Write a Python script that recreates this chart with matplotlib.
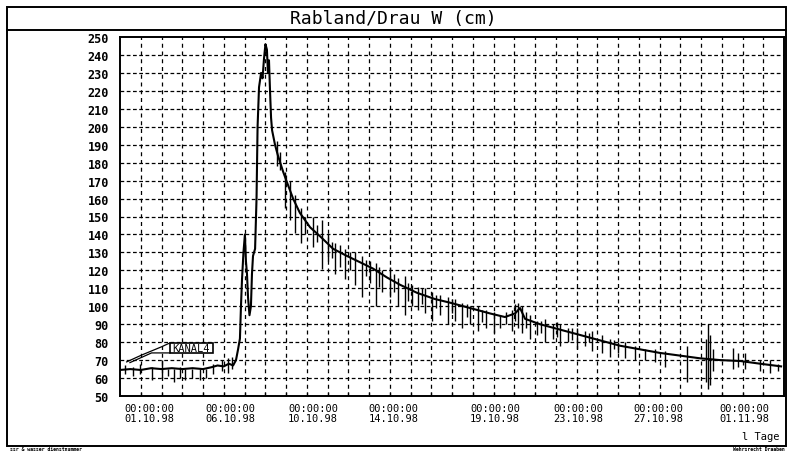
import matplotlib
matplotlib.use("Agg")
import matplotlib.pyplot as plt
from matplotlib.patches import Rectangle
from matplotlib.lines import Line2D

# ---- data (days since 01.10.98 00:00, water level in cm) ----
base_day = [0.0, 0.5, 1.0, 1.5, 2.0, 2.5, 3.0, 3.5, 4.0, 4.4, 4.7, 5.0, 5.25, 5.45,
            5.59, 5.69, 5.78, 5.83, 5.88, 5.95, 6.02, 6.07, 6.12, 6.17, 6.24, 6.31,
            6.36, 6.41, 6.51, 6.58, 6.63, 6.70, 6.80, 6.87, 6.94, 7.01, 7.08, 7.13,
            7.18, 7.23, 7.28, 7.33, 7.47, 7.61, 7.86, 8.05, 8.34, 8.67, 9.16, 9.64,
            10.27, 10.94, 11.57, 12.19, 12.87, 13.49, 14.31, 15.18, 15.90, 16.87,
            17.83, 18.55, 19.04, 19.28, 19.52, 20.24, 21.2, 22.17, 23.13, 24.1,
            25.06, 26.02, 26.99, 27.95, 28.92, 29.88, 30.84, 31.86]
base_val = [64.5, 65, 64.5, 65.5, 65, 65.5, 65, 65.5, 65, 66, 67, 66.5, 68, 67,
            70, 76, 82, 100, 115, 130, 140, 125, 118, 105, 95, 100,
            118, 128, 132, 160, 200, 222, 230, 227, 238, 246, 243, 230,
            237, 220, 205, 198, 190, 184, 175, 169, 160, 152, 144, 139,
            132, 128, 124.5, 121, 116, 112, 107.5, 104, 102, 99,
            96, 94, 96, 99, 93, 90, 87, 84, 81, 78,
            76, 74, 72.5, 71, 70, 69.5, 68, 66.5]

spike_day = [0.24, 0.63, 0.96, 1.54, 2.02, 2.31, 2.60, 2.89, 3.13, 3.47, 3.86, 4.14,
             4.48, 4.92, 5.20, 5.40,
             7.55, 7.70, 7.95, 8.19, 8.43, 8.72, 8.92, 9.30, 9.50, 9.73, 10.02,
             10.20, 10.36, 10.60, 10.84, 11.10, 11.33, 11.66, 11.85, 12.05, 12.34,
             12.50, 12.63, 13.01, 13.20, 13.40, 13.73, 13.90, 14.07, 14.36, 14.55,
             14.70, 15.04, 15.25, 15.42, 15.81, 16.00, 16.14, 16.48, 16.70, 16.87,
             17.25, 17.45, 17.64, 18.02, 18.31, 18.60, 18.89, 19.05, 19.18, 19.37,
             19.55, 19.76, 20.10, 20.30, 20.48, 20.87, 21.05, 21.20, 21.59, 21.80,
             22.02, 22.41, 22.60, 22.75, 23.23, 23.61, 23.80, 24.00, 24.34, 24.82,
             25.30, 25.78, 26.27, 27.33, 28.24, 28.34, 28.43, 28.60, 29.54, 29.80,
             30.12, 30.84, 31.33, 31.71]
spike_lo = [62, 61, 62, 59, 60, 61, 58, 60, 59, 60, 59, 60,
            62, 64, 63, 65,
            178, 176, 155, 148, 141, 135, 140, 133, 136, 121, 125,
            127, 118, 122, 115, 120, 112, 105, 117, 113, 100,
            111, 108, 105, 108, 100, 95, 103, 100, 98, 101,
            96, 92, 99, 95, 90, 96, 92, 88, 94, 90,
            86, 91, 88, 85, 88, 90, 86, 92, 88, 85,
            88, 82, 84, 85, 80, 82, 83, 78, 80, 81,
            76, 78, 80, 75, 74, 72, 76, 74, 71, 70,
            70, 69, 66, 58, 58, 54, 56, 64, 65, 66,
            65, 64, 63, 64]
spike_hi = [67, 66, 68, 66, 70, 65, 65, 66, 65, 65, 65, 65,
            68, 70, 71, 72,
            192, 186, 175, 170, 162, 155, 150, 150, 145, 148, 140,
            136, 135, 134, 132, 130, 130, 128, 126, 125, 124,
            122, 120, 122, 118, 116, 117, 113, 112, 111, 110,
            110, 108, 106, 106, 105, 104, 104, 102, 101, 100,
            100, 98, 98, 97, 95, 97, 98, 101, 102, 100,
            97, 95, 92, 92, 93, 90, 91, 90, 88, 88,
            88, 86, 85, 86, 84, 82, 81, 80, 80, 78,
            76, 76, 75, 78, 82, 90, 84, 76, 77, 74,
            74, 70, 70, 68]

xtick_pos = [1.40, 5.33, 9.30, 13.19, 18.07, 22.07, 25.93, 30.07]
xtick_lbl = ["00:00:00\n01.10.98", "00:00:00\n06.10.98", "00:00:00\n10.10.98",
             "00:00:00\n14.10.98", "00:00:00\n19.10.98", "00:00:00\n23.10.98",
             "00:00:00\n27.10.98", "00:00:00\n01.11.98"]
ytick_vals = list(range(50, 251, 10))

# legend box / leader lines (data coordinates)
legend_box = (2.41, 74.0, 2.07, 5.6)
leader_1 = ([2.41, 2.00, 1.04, 0.32], [79.6, 77.4, 72.8, 69.0])
leader_2 = ([2.41, 1.52, 0.48], [74.0, 74.0, 68.6])

FONT = "DejaVu Sans Mono"

fig = plt.figure(figsize=(7.87, 4.52), dpi=100)
ax = fig.add_axes([120/787, 55/452, 664/787, 359/452])

ax.set_xlim(0, 32)
ax.set_ylim(50, 250)

# grid
for d in range(1, 32):
    ax.axvline(d, color="black", lw=0.9, dashes=(3.2, 3.0), zorder=1)
for v in range(60, 250, 10):
    ax.axhline(v, color="black", lw=0.9, dashes=(3.0, 2.0), zorder=1)

# data
ax.vlines(spike_day, spike_lo, spike_hi, color="black", lw=1.0, zorder=3)
ax.plot(base_day, base_val, color="black", lw=1.5, zorder=4)

# legend annotation
ax.add_patch(Rectangle((legend_box[0], legend_box[1]), legend_box[2], legend_box[3],
                       facecolor="white", edgecolor="black", lw=1.2, zorder=5))
ax.text(legend_box[0] + legend_box[2] / 2, legend_box[1] + legend_box[3] / 2, "KANAL4",
        ha="center", va="center", fontsize=7.5, family=FONT, zorder=6)
ax.plot(*leader_1, color="black", lw=0.9, zorder=5)
ax.plot(*leader_2, color="black", lw=0.9, zorder=5)

# ticks
ax.set_xticks(xtick_pos)
ax.set_xticklabels(xtick_lbl, fontsize=7.5, family=FONT, linespacing=0.95)
ax.set_xticks(range(1, 32), minor=True)
ax.tick_params(axis="x", which="major", length=0, pad=5)
ax.tick_params(axis="x", which="minor", direction="in", length=3, width=0.9)
ax.set_yticks(ytick_vals)
ax.set_yticklabels([str(v) for v in ytick_vals], fontsize=8.5, family=FONT,
                   fontweight="bold")
ax.tick_params(axis="y", length=0, pad=8)
for s in ax.spines.values():
    s.set_linewidth(1.4)

# frame and title
fig.patches.append(Rectangle((7/787, 1 - 447/452), 779/787, 439/452,
                             transform=fig.transFigure, fill=False,
                             edgecolor="black", lw=1.4))
fig.lines.append(Line2D([7/787, 786/787], [1 - 31/452, 1 - 31/452],
                        transform=fig.transFigure, color="black", lw=1.4))
fig.text(393/787, 1 - 19/452, "Rabland/Drau W (cm)", ha="center", va="center",
         fontsize=13, family=FONT)
fig.text(780/787, 1 - 437/452, "l Tage", ha="right", va="center",
         fontsize=7.5, family=FONT)
fig.text(10/787, 1 - 450/452, "ssr & wasser dienstnummer", ha="left", va="center",
         fontsize=3.5, family=FONT, fontweight="bold")
fig.text(785/787, 1 - 450/452, "Wehrsrecht Draaben", ha="right", va="center",
         fontsize=3.5, family=FONT, fontweight="bold")

fig.savefig("out.png", dpi=100)
